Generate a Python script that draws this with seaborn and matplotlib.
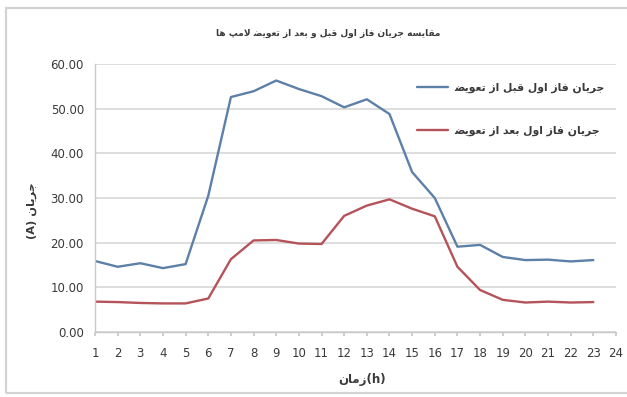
import numpy as np
import pandas as pd
import seaborn as sns
import matplotlib
matplotlib.use("Agg")
import matplotlib.pyplot as plt
from matplotlib.patches import Rectangle
from matplotlib.lines import Line2D

# ---------------- data ----------------
hours = list(range(1, 24))
before = [15.9, 14.6, 15.4, 14.3, 15.2, 30.5, 52.6, 53.9, 56.3, 54.4, 52.8, 50.3,
          52.1, 48.8, 35.8, 30.0, 19.1, 19.5, 16.8, 16.1, 16.2, 15.8, 16.1]
after = [6.8, 6.7, 6.5, 6.4, 6.4, 7.5, 16.3, 20.5, 20.6, 19.8, 19.7, 26.0,
         28.3, 29.7, 27.6, 25.9, 14.6, 9.4, 7.2, 6.6, 6.8, 6.6, 6.7]
series_names = ["جریان فاز اول قبل از تعویض", "جریان فاز اول بعد از تعویض"]
title_text = "مقایسه جریان فاز اول قبل و بعد از تعویض لامپ ها"
ylabel_word = "جریان"
xlabel_word = "زمان"
xtick_labels = [str(i) for i in range(1, 25)]
yticks = [0, 10, 20, 30, 40, 50, 60]

# ------------- minimal Arabic/Persian shaping (matplotlib has no shaping) -------------
FORMS = {
    'ا': ('\uFE8D', '\uFE8E', None, None),
    'ب': ('\uFE8F', '\uFE90', '\uFE91', '\uFE92'),
    'پ': ('\uFB56', '\uFB57', '\uFB58', '\uFB59'),
    'ت': ('\uFE95', '\uFE96', '\uFE97', '\uFE98'),
    'ج': ('\uFE9D', '\uFE9E', '\uFE9F', '\uFEA0'),
    'د': ('\uFEA9', '\uFEAA', None, None),
    'ر': ('\uFEAD', '\uFEAE', None, None),
    'ز': ('\uFEAF', '\uFEB0', None, None),
    'س': ('\uFEB1', '\uFEB2', '\uFEB3', '\uFEB4'),
    'ض': ('\uFEBF', '\uFEC0', '\uFEC1', '\uFEC2'),
    'ع': ('\uFEC9', '\uFECA', '\uFECB', '\uFECC'),
    'ف': ('\uFED1', '\uFED2', '\uFED3', '\uFED4'),
    'ق': ('\uFED5', '\uFED6', '\uFED7', '\uFED8'),
    'ل': ('\uFEDD', '\uFEDE', '\uFEDF', '\uFEE0'),
    'م': ('\uFEE1', '\uFEE2', '\uFEE3', '\uFEE4'),
    'ن': ('\uFEE5', '\uFEE6', '\uFEE7', '\uFEE8'),
    'ه': ('\uFEE9', '\uFEEA', '\uFEEB', '\uFEEC'),
    'و': ('\uFEED', '\uFEEE', None, None),
    'ی': ('\uFBFC', '\uFBFD', '\uFBFE', '\uFBFF'),
}


def shape(text):
    toks = []
    i = 0
    while i < len(text):
        c = text[i]
        if c == 'ل' and i + 1 < len(text) and text[i + 1] == 'ا':
            toks.append('LA')
            i += 2
        else:
            toks.append(c)
            i += 1

    def is_letter(t):
        return t in FORMS or t == 'LA'

    def joins_next(t):
        return t in FORMS and FORMS[t][2] is not None

    out = []
    for k, t in enumerate(toks):
        if not is_letter(t):
            out.append(t)
            continue
        prev_j = k > 0 and joins_next(toks[k - 1])
        if t == 'LA':
            out.append('\uFEFC' if prev_j else '\uFEFB')
            continue
        next_j = joins_next(t) and k + 1 < len(toks) and is_letter(toks[k + 1])
        iso, fin, ini, med = FORMS[t]
        if prev_j and next_j:
            out.append(med)
        elif prev_j:
            out.append(fin)
        elif next_j:
            out.append(ini)
        else:
            out.append(iso)
    return ''.join(out)[::-1]


# ---------------- style ----------------
sns.set_theme(style="white")
plt.rcParams['font.family'] = ['DejaVu Sans']
txt_color = "#3a3a3a"
grid_color = "#d4d4d4"
colors = ["#5d80a8", "#b5535a"]

W, H = 627, 397
fig = plt.figure(figsize=(W / 100, H / 100), dpi=100)
fig.patch.set_facecolor("white")

# outer chart border (Excel chart area)
fig.patches.append(Rectangle((6 / W, 4 / H), 700 / W, (389 - 4) / H,
                             transform=fig.transFigure, fill=False,
                             edgecolor="#d2d2d2", linewidth=1.6, zorder=0))

ax = fig.add_axes([95 / W, 1 - 332 / H, (616 - 95) / W, (332 - 64) / H])

df = pd.DataFrame({
    "hour": hours * 2,
    "value": before + after,
    "series": [series_names[0]] * len(hours) + [series_names[1]] * len(hours),
})
sns.lineplot(data=df, x="hour", y="value", hue="series", palette=colors,
             linewidth=1.7, ax=ax, legend=False)

ax.set_xlim(1, 24)
ax.set_ylim(0, 60)
ax.set_yticks(yticks)
ax.set_yticklabels([f"{v:.2f}" for v in yticks])
ax.set_xticks(range(1, 25))
ax.set_xticklabels(xtick_labels)
ax.yaxis.grid(True, color=grid_color, linewidth=1.1)
ax.set_axisbelow(True)
for s in ["top", "right"]:
    ax.spines[s].set_visible(False)
for s in ["left", "bottom"]:
    ax.spines[s].set_color("#c8c8c8")
    ax.spines[s].set_linewidth(1.0)
ax.tick_params(axis="y", length=0, pad=8, labelsize=8.5, labelcolor=txt_color)
ax.tick_params(axis="x", length=3, color="#c8c8c8", pad=8, labelsize=8.5,
               labelcolor=txt_color, direction="out", bottom=True)
ax.set_xlabel("")
ax.set_ylabel("")

# legend
handles = [Line2D([0], [0], color=c, lw=1.7) for c in colors]
ax.legend(handles, [shape(n) for n in series_names], loc="upper left",
          bbox_to_anchor=((417 - 95) / 521, (332 - 83) / 268), frameon=False,
          borderpad=0, borderaxespad=0, handlelength=2.9, handletextpad=0.5,
          labelspacing=3.0, prop={"size": 7.8, "weight": "bold"},
          labelcolor=txt_color)

# title and axis labels
fig.text(328 / W, 1 - 33 / H, shape(title_text), ha="center", va="center",
         fontsize=6.5, fontweight="bold", color=txt_color)
fig.text(32 / W, 1 - 211 / H, "(A) " + shape(ylabel_word), ha="center",
         va="center", rotation=90, fontsize=8.2, fontweight="bold", color=txt_color)
fig.text(362 / W, 1 - 380 / H, shape(xlabel_word) + "(h)", ha="center",
         va="center", fontsize=8.5, fontweight="bold", color=txt_color)

fig.savefig("out.png", dpi=100, facecolor="white")
